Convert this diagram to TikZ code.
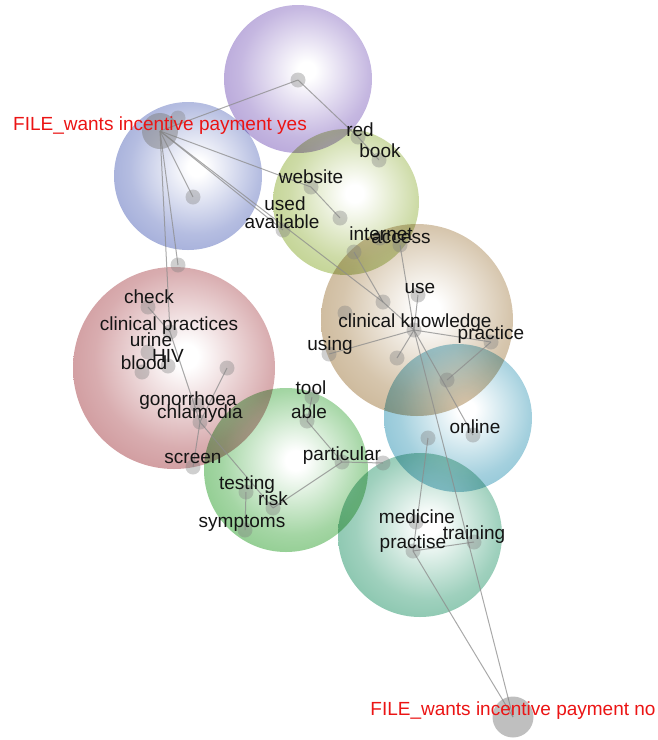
\documentclass[tikz,border=0pt]{standalone}
\usepackage{fontspec}
\setmainfont{Liberation Sans}

% theme colours (rim colour of each sphere)
\definecolor{thPurple}{RGB}{150,125,200}
\definecolor{thBlue}{RGB}{120,135,200}
\definecolor{thOlive}{RGB}{165,190,95}
\definecolor{thTan}{RGB}{180,150,105}
\definecolor{thRed}{RGB}{185,105,110}
\definecolor{thGreen}{RGB}{90,180,90}
\definecolor{thCyan}{RGB}{90,170,195}
\definecolor{thTeal}{RGB}{80,170,135}
\definecolor{linkgray}{RGB}{140,140,140}
\definecolor{wordred}{RGB}{235,20,20}

\colorlet{tcol}{white}
\colorlet{tmid}{white}
% white core fading to the theme colour at the rim
\pgfdeclareradialshading[tcol,tmid]{spherefade}{\pgfpoint{3bp}{3bp}}{%
  color(0bp)=(white); color(3bp)=(white); color(22bp)=(tmid); color(50bp)=(tcol); color(100bp)=(tcol)}

\newcommand\spherefill[4]{%
  \colorlet{tcol}{#4}\colorlet{tmid}{#4!55!white}%
  \shade[shading=spherefade, blend mode=multiply] (#1,#2) circle (#3pt);}

\pgfdeclarelayer{spheres}
\pgfdeclarelayer{links}
\pgfsetlayers{spheres,links,main}

\begin{document}
\begin{tikzpicture}[x=1pt,y=-1pt,
  concept/.style={circle, fill=black!50, fill opacity=0.38, minimum size=15pt, inner sep=0pt},
  hubyes/.style={circle, fill=black!50, fill opacity=0.5, minimum size=36pt, inner sep=0pt},
  hubno/.style={circle, fill=black!50, fill opacity=0.5, minimum size=41pt, inner sep=0pt},
  link/.style={draw=linkgray, line width=1pt, draw opacity=0.75},
  word/.style={anchor=base, font=\fontsize{19}{19}\selectfont, text=black!92, inner sep=0pt},
  fileword/.style={word, text=wordred}]

\useasboundingbox (0,0) rectangle (658,740);

% themes
\begin{pgfonlayer}{spheres}
  \spherefill{298}{79}{74}{thPurple}
  \spherefill{188}{176}{74}{thBlue}
  \spherefill{346}{202}{73}{thOlive}
  \spherefill{417}{320}{96}{thTan}
  \spherefill{174}{368}{101}{thRed}
  \spherefill{286}{470}{82}{thGreen}
  \spherefill{458}{418}{74}{thCyan}
  \spherefill{420}{535}{82}{thTeal}
\end{pgfonlayer}

% concepts
\node[hubyes]  (yes)        at (160,131) {};
\node[concept] (yesb)       at (178,118) {};
\node[concept] (pdot)       at (298,80) {};
\node[concept] (bdot)       at (193,197) {};
\node[concept] (d1)         at (178,265) {};
\node[concept] (red)        at (358,137) {};
\node[concept] (book)       at (379,160) {};
\node[concept] (website)    at (311,187) {};
\node[concept] (used)       at (340,218) {};
\node[concept] (available)  at (283,230) {};
\node[concept] (internet)   at (354,252) {};
\node[concept] (accessa)    at (380,238) {};
\node[concept] (access)     at (400,245) {};
\node[concept] (use)        at (418,295) {};
\node[concept] (d2)         at (383,302) {};
\node[concept] (ck)         at (414,330) {};
\node[concept] (clin)       at (345,313) {};
\node[concept] (using)      at (329,354) {};
\node[concept] (practice)   at (491,342) {};
\node[concept] (d3)         at (397,358) {};
\node[concept] (d4)         at (447,380) {};
\node[concept] (online)     at (473,435) {};
\node[concept] (d5)         at (428,438) {};
\node[concept] (d6)         at (383,463) {};
\node[concept] (particular) at (342,462) {};
\node[concept] (able)       at (307,421) {};
\node[concept] (tool)       at (312,397) {};
\node[concept] (medicine)   at (416,522) {};
\node[concept] (practise)   at (413,551) {};
\node[concept] (training)   at (474,542) {};
\node[hubno]   (no)         at (513,717) {};
\node[concept] (check)      at (148,307) {};
\node[concept] (clinpract)  at (170,332) {};
\node[concept] (urine)      at (148,352) {};
\node[concept] (hiv)        at (168,366) {};
\node[concept] (blood)      at (142,372) {};
\node[concept] (d7)         at (227,368) {};
\node[concept] (gono)       at (197,405) {};
\node[concept] (chlam)      at (200,422) {};
\node[concept] (screen)     at (193,467) {};
\node[concept] (testing)    at (246,492) {};
\node[concept] (risk)       at (273,508) {};
\node[concept] (symptoms)   at (245,530) {};

% connections
\begin{pgfonlayer}{links}
  \foreach \a/\b in {yes/pdot, yes/bdot, yes/d1, yes/clinpract, yes/website,
      yes/available, yes/d2, pdot/red, red/book, website/used,
      internet/d2, d2/ck, access/ck, use/ck, ck/using, ck/practice, ck/d3,
      ck/online, ck/no, practice/d4, d5/practise, practise/training,
      practise/no, particular/d6, particular/able, able/tool,
      particular/risk, chlam/risk, testing/symptoms, d7/chlam,
      chlam/screen, clinpract/chlam, check/clinpract}
    \draw[link] (\a.center) -- (\b.center);
\end{pgfonlayer}

% labels
\node[fileword] (l-yes) at (160,130) {FILE\_wants incentive payment yes};
\node[fileword] (l-no)  at (513,715) {FILE\_wants incentive payment no};
\node[word] (l-red)        at (360,136) {red};
\node[word] (l-book)       at (380,157) {book};
\node[word] (l-website)    at (311,183) {website};
\node[word] (l-used)       at (285,210) {used};
\node[word] (l-available)  at (282,228) {available};
\node[word] (l-internet)   at (381,240) {internet};
\node[word] (l-access)     at (401,243) {access};
\node[word] (l-use)        at (420,293) {use};
\node[word] (l-ck)         at (415,327) {clinical knowledge};
\node[word] (l-practice)   at (491,339) {practice};
\node[word] (l-using)      at (330,350) {using};
\node[word] (l-check)      at (149,303) {check};
\node[word] (l-clinpract)  at (169,330) {clinical practices};
\node[word] (l-urine)      at (151,346) {urine};
\node[word] (l-hiv)        at (168,362) {HIV};
\node[word] (l-blood)      at (144,369) {blood};
\node[word] (l-gono)       at (188,405) {gonorrhoea};
\node[word] (l-chlam)      at (200,418) {chlamydia};
\node[word] (l-screen)     at (193,463) {screen};
\node[word] (l-tool)       at (311,394) {tool};
\node[word] (l-able)       at (309,418) {able};
\node[word] (l-particular) at (342,460) {particular};
\node[word] (l-testing)    at (247,489) {testing};
\node[word] (l-risk)       at (273,505) {risk};
\node[word] (l-symptoms)   at (242,527) {symptoms};
\node[word] (l-online)     at (475,433) {online};
\node[word] (l-medicine)   at (417,523) {medicine};
\node[word] (l-practise)   at (413,548) {practise};
\node[word] (l-training)   at (474,539) {training};
\end{tikzpicture}
\end{document}
